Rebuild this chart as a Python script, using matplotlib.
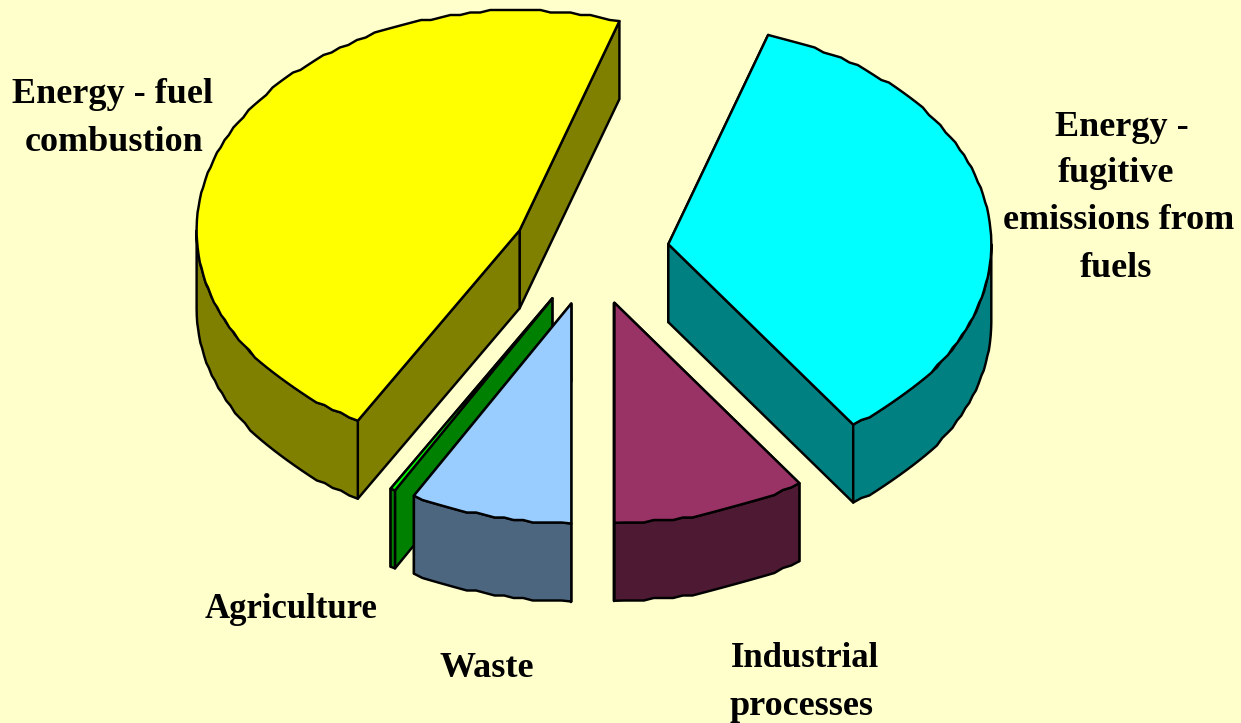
import numpy as np
import matplotlib
matplotlib.use("Agg")
import matplotlib.pyplot as plt

# Data (percent shares, clockwise from the first slice)
categories = ["Energy - fugitive emissions from fuels", "Industrial processes", "Waste", "Agriculture", "Energy - fuel combustion"]
shares = [35.3, 9.7, 8.1, 0.25, 46.65]
label_lines = [
    ["Energy -", "fugitive", "emissions from", "fuels"],
    ["Industrial", "processes"],
    ["Waste"],
    ["Agriculture"],
    ["Energy - fuel", "combustion"],
]

# Style and layout
top_colors = ["#00FFFF", "#993366", "#99CCFF", "#00FF00", "#FFFF00"]
wall_colors = ["#008080", "#4D1933", "#4D6680", "#008000", "#808000"]
label_xy = [
    [(1122, 136), (1116, 182), (1119, 229), (1116, 277)],
    [(805, 667), (802, 715)],
    [(487, 677)],
    [(291, 618)],
    [(113, 103), (114, 151)],
]
label_sizes = [
    [26, 26, 26, 26],
    [25, 26],
    [26],
    [25],
    [26, 26],
]
BG = "#FFFFCC"
START = 18.0
CX, CY = 591, 252
RX, RY = 323, 220
DEPTH = 78
EXPLODE = 0.242
LW = 1.75
STEP = 2.5   # the reference's rim is a coarse staircase, not a smooth curve

W, H = 1241, 723
fig = plt.figure(figsize=(W / 100, H / 100), dpi=100, facecolor=BG)
ax = fig.add_axes([0, 0, 1, 1])
ax.set_xlim(0, W)
ax.set_ylim(H, 0)
ax.axis("off")


def rim(cx, cy, a0, a1):
    n = max(int(abs(a1 - a0) / 1.8) + 2, 2)
    t = np.radians(np.linspace(a0, a1, n))
    pts = np.column_stack([cx + RX * np.sin(t), cy - RY * np.cos(t)])
    inner = pts[1:-1]
    pts[1:-1] = np.column_stack([inner[:, 0], np.round(inner[:, 1] / STEP) * STEP])
    return pts


def point(cx, cy, a):
    t = np.radians(a)
    return np.array([[cx + RX * np.sin(t), cy - RY * np.cos(t)]])


def poly(pts, color):
    ax.fill(pts[:, 0], pts[:, 1], facecolor=color, edgecolor="black",
            linewidth=LW, joinstyle="round")


angles = START + np.concatenate([[0], np.cumsum(shares)]) * 3.6
order = [4, 0, 1, 3, 2]
for i in order:
    a0, a1 = angles[i], angles[i + 1]
    mid = np.radians((a0 + a1) / 2)
    cx = CX + EXPLODE * RX * np.sin(mid)
    cy = CY - EXPLODE * RY * np.cos(mid)
    tip = np.array([[cx, cy]])
    # radial cut faces: the one further from the front goes first
    faces = sorted((a0, a1), key=lambda a: -abs((a % 360) - 180))
    for a in faces:
        edge = point(cx, cy, a)
        face = np.vstack([tip, edge, edge + [0, DEPTH], tip + [0, DEPTH]])
        poly(face, wall_colors[i])
    # outer wall: the part of the rim on the front half
    for shift in (0, 360):
        w0, w1 = max(a0, 90 + shift), min(a1, 270 + shift)
        if w1 > w0:
            upper = rim(cx, cy, w0, w1)
            lower = upper[::-1] + [0, DEPTH]
            poly(np.vstack([upper, lower]), wall_colors[i])
    # top surface
    poly(np.vstack([tip, rim(cx, cy, a0, a1)]), top_colors[i])

for lines, xy, sizes in zip(label_lines, label_xy, label_sizes):
    for line, (x, y), size in zip(lines, xy, sizes):
        ax.text(x, y, line, ha="center", va="baseline", color="black",
                fontsize=size, fontweight="bold", family="Liberation Serif")

fig.savefig("out.png", dpi=100, facecolor=BG)
